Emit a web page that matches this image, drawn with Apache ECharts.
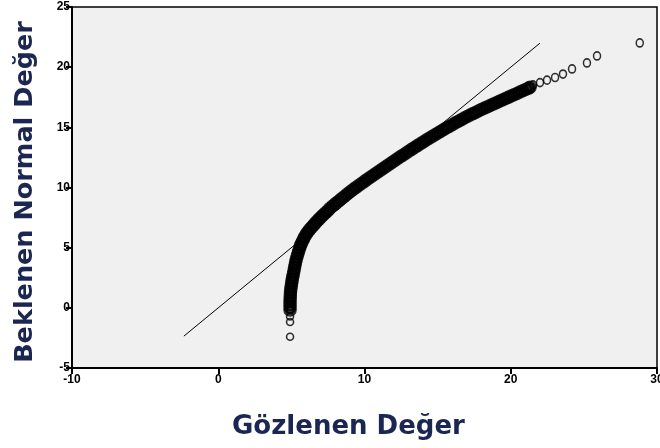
<!DOCTYPE html>
<html>
<head>
<meta charset="utf-8">
<script src="https://cdn.jsdelivr.net/npm/echarts@6/dist/echarts.min.js"></script>
<style>
  html, body { margin: 0; padding: 0; background: #ffffff; }
  #chart { width: 660px; height: 448px; }
</style>
</head>
<body>
<div id="chart"></div>
<script>
// Normal Q-Q plot: observed value (x) against expected normal value (y)
const xTitle = 'Gözlenen Değer';
const yTitle = 'Beklenen Normal Değer';

const xAxisMin = -10, xAxisMax = 30, xAxisStep = 10;
const yAxisMin = -5, yAxisMax = 25, yAxisStep = 5;

// Reference line y = x, spanning the expected-value range
const refLine = [[-2.35, -2.35], [22, 22]];

// Lowest few observations, drawn apart from the main body
const qqLow = [[4.91, -2.40], [4.91, -1.18], [4.91, -0.72]];

// Main body of observations, where the points overlap into a solid band
const qqBody = [
  [4.91, -0.18], [4.91, 0.05], [4.91, 0.30], [4.91, 0.55], [4.92, 0.80],
  [4.93, 1.05], [4.94, 1.30], [4.96, 1.55], [4.99, 1.80], [5.02, 2.05],
  [5.05, 2.30], [5.09, 2.55], [5.13, 2.80], [5.17, 3.05], [5.21, 3.30],
  [5.25, 3.55], [5.29, 3.80], [5.34, 4.05], [5.40, 4.30], [5.46, 4.55],
  [5.52, 4.80], [5.59, 5.05], [5.66, 5.28], [5.74, 5.50], [5.83, 5.72],
  [5.92, 5.93], [6.02, 6.13], [6.13, 6.32], [6.25, 6.50], [6.37, 6.68],
  [6.50, 6.85], [6.62, 7.02], [6.75, 7.20], [6.89, 7.37], [7.03, 7.54],
  [7.17, 7.71], [7.32, 7.88], [7.47, 8.05], [7.62, 8.25],
  [7.82, 8.46], [8.02, 8.66], [8.22, 8.86], [8.42, 9.06], [8.62, 9.26],
  [8.82, 9.46], [9.02, 9.65],
  [9.22, 9.83], [9.42, 10.01], [9.62, 10.19], [9.82, 10.36], [10.02, 10.53],
  [10.22, 10.70], [10.42, 10.87],
  [10.62, 11.04], [10.82, 11.20], [11.02, 11.37], [11.22, 11.54], [11.42, 11.70],
  [11.62, 11.87], [11.82, 12.04],
  [12.02, 12.20], [12.22, 12.36], [12.42, 12.53], [12.62, 12.69], [12.82, 12.85],
  [13.02, 13.01], [13.22, 13.17], [13.42, 13.32], [13.62, 13.48], [13.82, 13.63],
  [14.02, 13.79], [14.22, 13.94], [14.42, 14.09], [14.62, 14.24], [14.82, 14.39],
  [15.02, 14.53], [15.22, 14.68], [15.42, 14.82], [15.62, 14.96], [15.82, 15.10],
  [16.02, 15.24],
  [16.22, 15.38], [16.42, 15.51], [16.62, 15.64], [16.82, 15.77], [17.02, 15.90],
  [17.22, 16.02], [17.42, 16.14], [17.62, 16.26], [17.82, 16.38], [18.02, 16.50],
  [18.22, 16.61], [18.42, 16.72],
  [18.62, 16.83], [18.82, 16.94], [19.02, 17.05], [19.22, 17.16], [19.42, 17.27],
  [19.62, 17.38], [19.82, 17.49], [20.02, 17.60], [20.22, 17.71], [20.42, 17.82],
  [20.62, 17.93], [20.82, 18.04], [21.02, 18.15], [21.22, 18.26], [21.32, 18.33]
];

// Upper tail, where single observations stand out again
const qqHigh = [
  [21.52, 18.52], [22.00, 18.72], [22.48, 18.92], [23.03, 19.14], [23.57, 19.43],
  [24.19, 19.85], [25.21, 20.35], [25.90, 20.93], [28.82, 22.01]
];

const ink = '#000000';
const titleColor = '#1c2652';

const chart = echarts.init(document.getElementById('chart'), null, { renderer: 'canvas' });

const labelStyle = {
  color: ink, fontSize: 12, fontWeight: 'bold',
  fontFamily: '"Liberation Sans", Arial, sans-serif'
};
const axisCommon = {
  axisLine: { show: true, onZero: false, lineStyle: { color: ink, width: 2 } },
  axisTick: { show: true, inside: false, length: 6, lineStyle: { color: ink, width: 2 } },
  splitLine: { show: false }
};

const ringStyle = { color: 'rgba(0,0,0,0)', borderColor: ink, borderWidth: 1.6 };

chart.setOption({
  animation: false,
  backgroundColor: '#ffffff',
  grid: {
    left: 72, right: 3, top: 7, bottom: 80,
    outerBoundsMode: 'none', containLabel: false,
    show: true, backgroundColor: '#f0f0f0',
    borderColor: ink, borderWidth: 1.5
  },
  xAxis: Object.assign({}, axisCommon, {
    type: 'value', min: xAxisMin, max: xAxisMax, interval: xAxisStep,
    axisLabel: Object.assign({}, labelStyle, { margin: 6 })
  }),
  yAxis: Object.assign({}, axisCommon, {
    type: 'value', min: yAxisMin, max: yAxisMax, interval: yAxisStep,
    axisLabel: Object.assign({}, labelStyle, { margin: 2 })
  }),
  graphic: [
    {
      type: 'text', left: 232, top: 414,
      style: {
        text: xTitle, fill: titleColor,
        font: 'bold 26px "DejaVu Sans", Verdana, sans-serif'
      }
    },
    {
      type: 'text', x: 25, y: 192, rotation: Math.PI / 2,
      style: {
        text: yTitle, fill: titleColor, align: 'center', verticalAlign: 'middle',
        font: 'bold 25.5px "DejaVu Sans", Verdana, sans-serif'
      }
    }
  ],
  series: [
    {
      type: 'line', data: refLine, symbol: 'none', silent: true,
      lineStyle: { color: ink, width: 1 }, z: 2
    },
    {
      type: 'scatter', data: qqBody, symbol: 'circle', symbolSize: 9,
      itemStyle: { color: 'rgba(0,0,0,0)', borderColor: ink, borderWidth: 4.5 },
      z: 3
    },
    {
      type: 'scatter', data: qqLow, symbol: 'circle', symbolSize: 7,
      itemStyle: ringStyle, z: 3
    },
    {
      type: 'scatter', data: qqHigh, symbol: 'circle', symbolSize: [7, 8],
      itemStyle: ringStyle, z: 3
    }
  ]
});
</script>
</body>
</html>
